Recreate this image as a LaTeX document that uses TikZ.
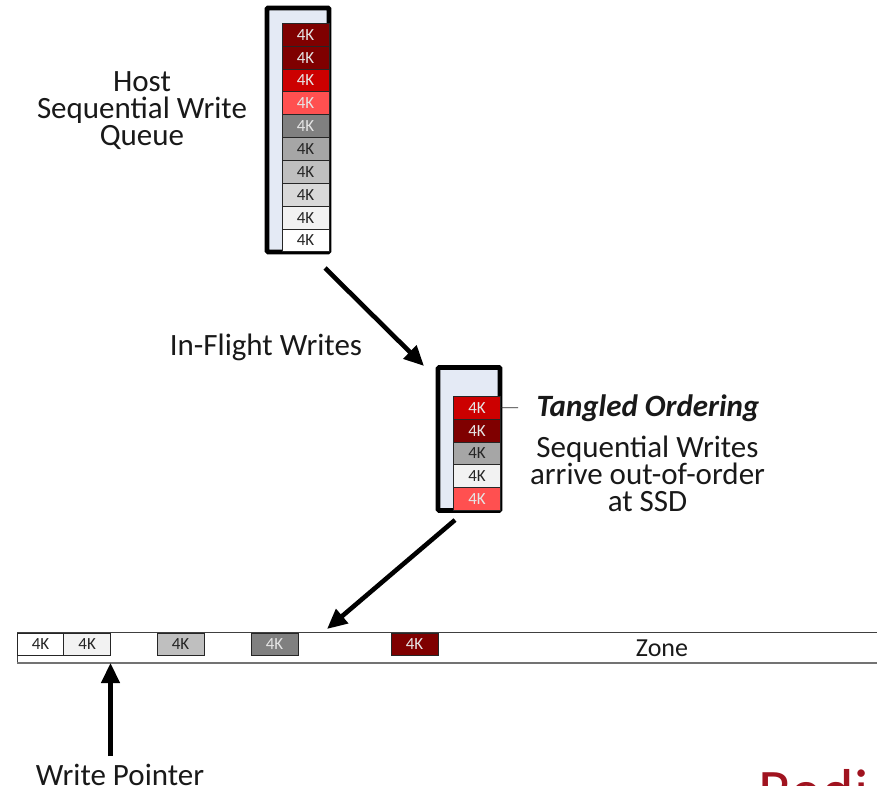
\documentclass[tikz,border=0pt]{standalone}
\usepackage{fontspec}
\setmainfont{Carlito}
\usetikzlibrary{arrows.meta}
\definecolor{qfill}{HTML}{E4EAF5}
\definecolor{dred}{HTML}{7F0000}
\definecolor{mred}{HTML}{CC0000}
\definecolor{lred}{HTML}{FF5050}
\definecolor{g5}{HTML}{808080}
\definecolor{g4}{HTML}{A6A6A6}
\definecolor{g3}{HTML}{BFBFBF}
\definecolor{g2}{HTML}{D9D9D9}
\definecolor{g1}{HTML}{F2F2F2}
\definecolor{logored}{HTML}{A0131F}
\tikzset{
  x=1pt,y=-1pt,
  cellbox/.style={draw=black!85,line width=1pt,minimum width=47pt,minimum height=22.85pt,inner sep=0pt,outer sep=0pt,font=\fontsize{17}{17}\selectfont,anchor=north west},
  lightcell/.style={cellbox,fill=#1,text=black!85},
  darkcell/.style={cellbox,fill=#1,text=white!90!black},
  label/.style={font=\fontsize{31}{27}\selectfont,align=center,inner sep=0pt,text=black!90},
  bigarrow/.style={line width=4.6pt,-{Triangle[length=20pt,width=18pt]}},
  queueframe/.style={draw=black,line width=4.6pt,fill=qfill,rounded corners=1pt,outer sep=0pt,inner sep=0pt,anchor=north west},
}
\begin{document}
\begin{tikzpicture}
\useasboundingbox (0,0) rectangle (877,786);
% Host queue
\node[queueframe,minimum width=62pt,minimum height=244pt] (hostq) at (267,8) {};
\node[darkcell=dred] (h1) at (282,23.4) {4K};
\node[darkcell=dred] (h2) at (282,46.25) {4K};
\node[darkcell=mred] (h3) at (282,69.1) {4K};
\node[darkcell=lred] (h4) at (282,91.95) {4K};
\node[darkcell=g5] (h5) at (282,114.8) {4K};
\node[lightcell=g4] (h6) at (282,137.65) {4K};
\node[lightcell=g3] (h7) at (282,160.5) {4K};
\node[lightcell=g2] (h8) at (282,183.35) {4K};
\node[lightcell=g1] (h9) at (282,206.2) {4K};
\node[lightcell=white] (h10) at (282,229.05) {4K};
\node[label] (hostlabel) at (142,110.6) {Host\\Sequential Write\\Queue};
% SSD queue
\node[queueframe,minimum width=62pt,minimum height=143pt] (ssdq) at (438,367.5) {};
\node[darkcell=mred] (s1) at (453.5,396.4) {4K};
\node[darkcell=dred] (s2) at (453.5,419.25) {4K};
\node[lightcell=g4] (s3) at (453.5,442.1) {4K};
\node[lightcell=g1] (s4) at (453.5,464.95) {4K};
\node[darkcell=lred] (s5) at (453.5,487.8) {4K};
\node[label,font=\fontsize{31}{27}\selectfont\bfseries\itshape] (tangled) at (648,408.5) {Tangled Ordering};
\node[label] (seqlabel) at (647.5,474) {Sequential Writes\\arrive out-of-order\\at SSD};
\coordinate (leadend) at (518,407.8);
\draw[line width=0.8pt,draw=black!85] (s1.east) -- (leadend);
\node[label] (inflight) at (266,347) {In-Flight Writes};
% Zone
\node[draw=black!75,line width=1pt,fill=white,anchor=north west,minimum width=870pt,minimum height=31pt,inner sep=0pt,outer sep=0pt] (zone) at (17,632) {};
\draw[black!55,line width=1.6pt] (zone.south west) -- (zone.south east);
\tikzset{cellbox/.append style={minimum height=22pt}}
\node[lightcell=white] (z1) at (17,633) {4K};
\node[lightcell=g1] (z2) at (63.7,633) {4K};
\node[lightcell=g3] (z3) at (157,633) {4K};
\node[darkcell=g5] (z4) at (251,633) {4K};
\node[darkcell=dred] (z5) at (391,633) {4K};
\node[font=\fontsize{26}{26}\selectfont,inner sep=0pt,text=black!90] (zonelabel) at (662,648.5) {Zone};
% Arrows
\coordinate (a1s) at (325,268);
\coordinate (a1e) at (424,366);
\coordinate (a2s) at (455,520);
\coordinate (a2e) at (327,629);
\coordinate (a3s) at (110.5,756);
\coordinate (a3e) at (110.5,663);
\draw[bigarrow] (a1s) -- (a1e);
\draw[bigarrow] (a2s) -- (a2e);
\draw[bigarrow] (a3s) -- (a3e);
\node[label] (wplabel) at (120,774.5) {Write Pointer};
% Logo cropped by the page edge
\begin{scope}
\clip (0,0) rectangle (877,786);
\node[font=\fontsize{62}{62}\selectfont,text=logored,inner sep=0pt,anchor=base west] (logo) at (758,812.5) {Redi};
\end{scope}
\end{tikzpicture}
\end{document}
